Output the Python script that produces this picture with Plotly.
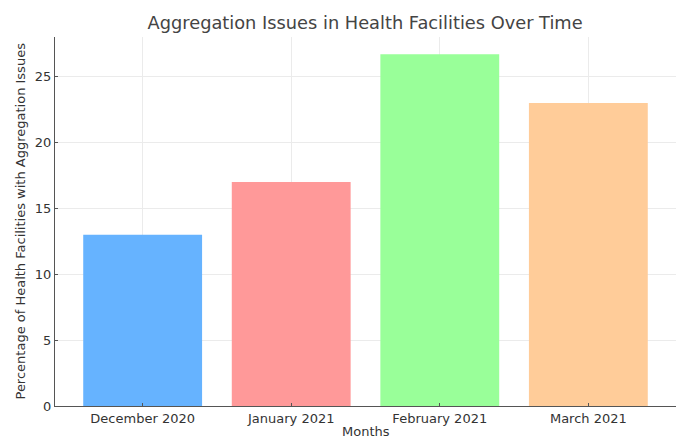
import plotly.graph_objects as go

months = ["December 2020", "January 2021", "February 2021", "March 2021"]
percentages = [13, 17, 26.7, 23]
bar_colors = ["#66b3ff", "#ff9999", "#99ff99", "#ffcc99"]

fig = go.Figure(
    go.Bar(
        x=list(range(len(months))),
        y=percentages,
        marker=dict(color=bar_colors, line=dict(width=0)),
        width=0.8,
    )
)

font_family = "DejaVu Sans, sans-serif"
fig.update_layout(
    width=685,
    height=439,
    margin=dict(l=55, r=9, t=37, b=33),
    paper_bgcolor="white",
    plot_bgcolor="white",
    font=dict(family=font_family, color="#333333", size=13),
    title=dict(
        text="Aggregation Issues in Health Facilities Over Time",
        x=0.533,
        xanchor="center",
        y=0.948,
        yanchor="middle",
        font=dict(size=17.8, color="#444444"),
    ),
    showlegend=False,
    bargap=0.2,
)

fig.update_xaxes(
    range=[-0.59, 3.59],
    tickmode="array",
    tickvals=list(range(len(months))),
    ticktext=months,
    showgrid=True,
    gridcolor="#ebebeb",
    gridwidth=1,
    showline=True,
    linecolor="#555555",
    linewidth=1,
    ticks="inside",
    ticklen=3,
    tickcolor="#555555",
    automargin=False,
    zeroline=False,
)
fig.update_yaxes(
    range=[0, 28.0],
    tickvals=[0, 5, 10, 15, 20, 25],
    showgrid=True,
    gridcolor="#ebebeb",
    gridwidth=1,
    showline=True,
    linecolor="#555555",
    linewidth=1,
    ticks="inside",
    ticklen=3,
    tickcolor="#555555",
    automargin=False,
    zeroline=False,
)

# Axis titles placed as paper annotations for precise positioning
fig.add_annotation(
    text="Months",
    xref="paper", yref="paper",
    x=0.5, y=0, yshift=-25,
    xanchor="center", yanchor="middle",
    showarrow=False,
    font=dict(size=13, color="#333333"),
)
fig.add_annotation(
    text="Percentage of Health Facilities with Aggregation Issues",
    xref="paper", yref="paper",
    x=0, xshift=-35, y=0.5,
    xanchor="center", yanchor="middle",
    textangle=-90,
    showarrow=False,
    font=dict(size=13, color="#333333"),
)

fig.write_html("out.html")
